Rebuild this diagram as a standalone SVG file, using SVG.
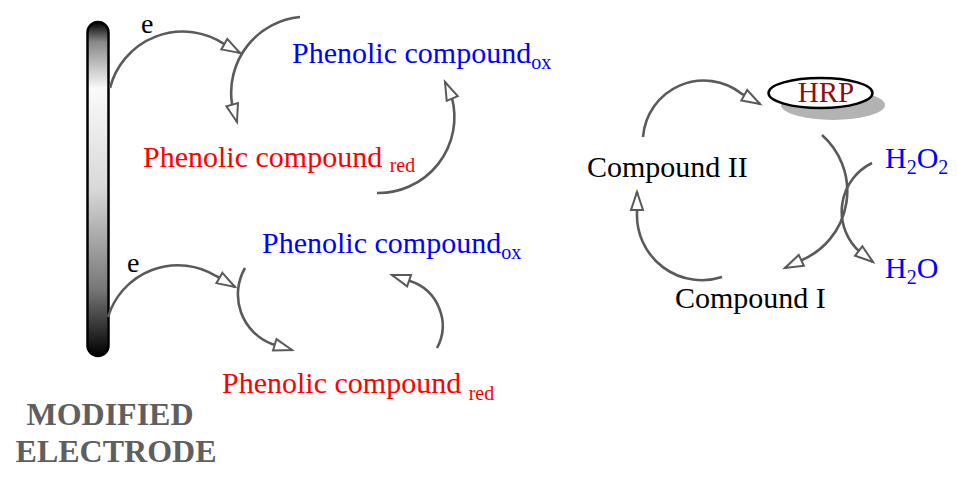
<svg xmlns="http://www.w3.org/2000/svg" width="957" height="480" viewBox="0 0 957 480">
<defs>
<linearGradient id="elec" x1="0" y1="0" x2="0" y2="1">
<stop offset="0" stop-color="#000"/>
<stop offset="0.06" stop-color="#888"/>
<stop offset="0.2" stop-color="#fafafa"/>
<stop offset="0.5" stop-color="#d8d8d8"/>
<stop offset="0.8" stop-color="#777"/>
<stop offset="1" stop-color="#000"/>
</linearGradient>
<marker id="ah" markerUnits="userSpaceOnUse" markerWidth="24" markerHeight="18" refX="20" refY="8" orient="auto" overflow="visible">
<path d="M2,2 L20,8 L2,14 Z" fill="#fff" stroke="#5a5a5a" stroke-width="2" stroke-linejoin="miter"/>
</marker>
</defs>
<style>
.t{font-family:"Liberation Serif","Times New Roman",serif;font-size:30px}
.blue{fill:#0000ff}
.red{fill:#ff0000}
.blk{fill:#000}
.sub{font-size:20px}
.arc{fill:none;stroke:#5a5a5a;stroke-width:2.6;marker-end:url(#ah)}
</style>
<g id="electrode">
<rect x="87.5" y="22" width="21" height="334" rx="10.5" fill="url(#elec)" stroke="#000" stroke-width="2.5"/>
<text x="110" y="425" text-anchor="middle" style="font-family:'Liberation Serif','Times New Roman',serif;font-weight:bold;font-size:32px;fill:#5f5f5f">MODIFIED</text>
<text x="116" y="462" text-anchor="middle" style="font-family:'Liberation Serif','Times New Roman',serif;font-weight:bold;font-size:32px;fill:#5f5f5f">ELECTRODE</text>
</g>
<g id="labels-e">
<text class="t blk" x="141" y="33" style="font-size:28px">e</text>
<text class="t blk" x="127" y="272" style="font-size:28px">e</text>
</g>
<g id="phenol-ox-top"><text class="t blue" x="292" y="63">Phenolic compound<tspan class="sub" dy="6">ox</tspan></text></g>
<g id="phenol-red-top"><text class="t red" x="143" y="167">Phenolic compound <tspan class="sub" dy="5">red</tspan></text></g>
<g id="phenol-ox-bottom"><text class="t blue" x="262" y="253">Phenolic compound<tspan class="sub" dy="6">ox</tspan></text></g>
<g id="phenol-red-bottom"><text class="t red" x="222" y="393">Phenolic compound <tspan class="sub" dy="7">red</tspan></text></g>
<g id="hrp">
<ellipse cx="833" cy="105" rx="52" ry="15" fill="#b3b3b3"/>
<ellipse cx="820.5" cy="93" rx="52" ry="15" fill="#fff" stroke="#000" stroke-width="2.5"/>
<text class="t" x="826" y="102" text-anchor="middle" style="fill:#8b1010;font-size:29px">HRP</text>
</g>
<g id="compound-ii"><text class="t blk" x="587" y="177">Compound II</text></g>
<g id="compound-i"><text class="t blk" x="675" y="308">Compound I</text></g>
<g id="h2o2"><text class="t blue" x="885" y="168">H<tspan class="sub" dy="6">2</tspan><tspan dy="-6">O</tspan><tspan class="sub" dy="6">2</tspan></text></g>
<g id="h2o"><text class="t blue" x="885" y="278">H<tspan class="sub" dy="6">2</tspan><tspan dy="-6">O</tspan></text></g>
<g id="connectors">
<path class="arc" d="M110,88 A75 75 0 0 1 224,44 L240,53"/>
<path class="arc" d="M300,17 A76 76 0 0 0 232,104 L237,122"/>
<path class="arc" d="M377,193 A76 76 0 0 0 452,98 L445,82"/>
<path class="arc" d="M108,317 A73 73 0 0 1 216,276 L235,287"/>
<path class="arc" d="M245,268 A53 53 0 0 0 272,344 L292,350"/>
<path class="arc" d="M437,348 A47 47 0 0 0 410,281 L392,275"/>
<path class="arc" d="M643,137 A61 61 0 0 1 742,94 L760,104"/>
<path class="arc" d="M822,135 A75 75 0 0 1 802,260 L785,268"/>
<path class="arc" d="M872,163 A54 54 0 0 0 860,252 L873,262"/>
<path class="arc" d="M722,277 A65 65 0 0 1 637,213 L637,192"/>
</g>
</svg>
